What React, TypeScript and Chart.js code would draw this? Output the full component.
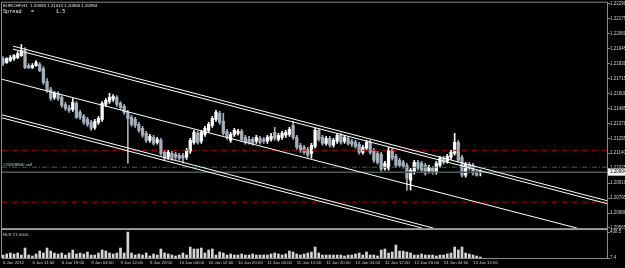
import React, { useEffect, useRef } from "react";
import { Chart, registerables } from "chart.js";

Chart.register(...registerables);

const symbol = "EURCHF,H1";
const spread = 1.5;
const orderLabel = "#25828840 sell";
const indicatorLabel = "HLR 27.0000";

const timeLabels = [
  "6 Jan 2012", "6 Jan 11:00", "6 Jan 19:00", "9 Jan 04:00", "9 Jan 12:00", "9 Jan 20:00",
  "10 Jan 04:00", "10 Jan 12:00", "10 Jan 20:00", "11 Jan 04:00", "11 Jan 12:00", "11 Jan 20:00",
  "12 Jan 04:00", "12 Jan 12:00", "12 Jan 20:00", "13 Jan 04:00", "13 Jan 12:00",
];
const timeLabelBars = [0, 8, 16, 24, 32, 40, 48, 56, 64, 72, 80, 88, 96, 104, 112, 120, 128];

const opens = [
  1.21868, 1.21837, 1.21853, 1.21868, 1.21876, 1.21891, 1.21930, 1.21814, 1.21799, 1.21814,
  1.21822, 1.21791, 1.21692, 1.21630, 1.21569, 1.21600, 1.21569, 1.21515, 1.21492, 1.21477,
  1.21523, 1.21454, 1.21423, 1.21400, 1.21377, 1.21339, 1.21377, 1.21400, 1.21515, 1.21538,
  1.21554, 1.21569, 1.21523, 1.21500, 1.21454, 1.21416, 1.21400, 1.21362, 1.21331, 1.21293,
  1.21239, 1.21262, 1.21224, 1.21239, 1.21147, 1.21109, 1.21139, 1.21132, 1.21124, 1.21124,
  1.21109, 1.21155, 1.21224, 1.21293, 1.21232, 1.21285, 1.21316, 1.21354, 1.21400, 1.21446,
  1.21385, 1.21308, 1.21239, 1.21285, 1.21293, 1.21308, 1.21262, 1.21247, 1.21247, 1.21232,
  1.21255, 1.21247, 1.21232, 1.21247, 1.21301, 1.21247, 1.21262, 1.21278, 1.21285, 1.21354,
  1.21262, 1.21201, 1.21186, 1.21170, 1.21139, 1.21193, 1.21316, 1.21262, 1.21216, 1.21255,
  1.21201, 1.21232, 1.21278, 1.21232, 1.21255, 1.21232, 1.21224, 1.21209, 1.21147, 1.21178,
  1.21224, 1.21163, 1.21139, 1.21132, 1.21024, 1.21024, 1.21163, 1.21116, 1.21086, 1.21070,
  1.21047, 1.20932, 1.20994, 1.21070, 1.21063, 1.21047, 1.21001, 1.21024, 1.20994, 1.21047,
  1.21101, 1.21078, 1.21109, 1.21139, 1.21224, 1.21109, 1.20971, 1.21055, 1.21047, 1.20994,
  1.20993,
];
const highs = [
  1.21884, 1.21876, 1.21891, 1.21899, 1.21922, 1.21976, 1.21953, 1.21830, 1.21830, 1.21853,
  1.21837, 1.21807, 1.21715, 1.21646, 1.21615, 1.21615, 1.21584, 1.21531, 1.21508, 1.21561,
  1.21538, 1.21469, 1.21439, 1.21416, 1.21393, 1.21400, 1.21423, 1.21538, 1.21561, 1.21600,
  1.21592, 1.21584, 1.21538, 1.21515, 1.21469, 1.21431, 1.21416, 1.21377, 1.21347, 1.21308,
  1.21285, 1.21278, 1.21262, 1.21255, 1.21163, 1.21163, 1.21155, 1.21147, 1.21139, 1.21139,
  1.21178, 1.21255, 1.21316, 1.21308, 1.21316, 1.21347, 1.21377, 1.21423, 1.21469, 1.21462,
  1.21446, 1.21324, 1.21301, 1.21331, 1.21324, 1.21324, 1.21278, 1.21270, 1.21262, 1.21278,
  1.21270, 1.21262, 1.21278, 1.21293, 1.21339, 1.21293, 1.21308, 1.21316, 1.21339, 1.21385,
  1.21278, 1.21216, 1.21201, 1.21186, 1.21216, 1.21331, 1.21331, 1.21278, 1.21270, 1.21270,
  1.21255, 1.21293, 1.21293, 1.21278, 1.21270, 1.21247, 1.21239, 1.21224, 1.21201, 1.21239,
  1.21239, 1.21178, 1.21155, 1.21147, 1.21078, 1.21186, 1.21178, 1.21132, 1.21101, 1.21086,
  1.21063, 1.21024, 1.21086, 1.21086, 1.21078, 1.21063, 1.21047, 1.21040, 1.21078, 1.21116,
  1.21116, 1.21132, 1.21163, 1.21293, 1.21239, 1.21124, 1.21070, 1.21070, 1.21063, 1.21009,
  1.21013,
];
const lows = [
  1.21814, 1.21830, 1.21845, 1.21853, 1.21868, 1.21884, 1.21791, 1.21791, 1.21791, 1.21807,
  1.21768, 1.21669, 1.21607, 1.21546, 1.21554, 1.21546, 1.21492, 1.21469, 1.21454, 1.21462,
  1.21408, 1.21400, 1.21362, 1.21347, 1.21316, 1.21324, 1.21362, 1.21385, 1.21500, 1.21523,
  1.21538, 1.21500, 1.21477, 1.21439, 1.21063, 1.21347, 1.21339, 1.21301, 1.21262, 1.21224,
  1.21224, 1.21201, 1.21209, 1.21124, 1.21086, 1.21093, 1.21086, 1.21093, 1.21086, 1.21063,
  1.21093, 1.21139, 1.21209, 1.21209, 1.21216, 1.21270, 1.21301, 1.21339, 1.21385, 1.21362,
  1.21278, 1.21247, 1.21224, 1.21270, 1.21278, 1.21232, 1.21209, 1.21209, 1.21201, 1.21216,
  1.21209, 1.21216, 1.21216, 1.21232, 1.21239, 1.21232, 1.21247, 1.21262, 1.21270, 1.21247,
  1.21170, 1.21147, 1.21132, 1.21109, 1.21101, 1.21178, 1.21232, 1.21201, 1.21201, 1.21186,
  1.21186, 1.21216, 1.21209, 1.21216, 1.21201, 1.21193, 1.21178, 1.21132, 1.21132, 1.21163,
  1.21132, 1.21070, 1.21055, 1.21001, 1.21009, 1.21009, 1.21086, 1.21032, 1.21032, 1.21024,
  1.20856, 1.20856, 1.20978, 1.21009, 1.20994, 1.20971, 1.20986, 1.20978, 1.20978, 1.21032,
  1.21055, 1.21063, 1.21093, 1.21124, 1.21070, 1.20955, 1.20955, 1.21009, 1.20971, 1.20963,
  1.20966,
];
const closes = [
  1.21830, 1.21868, 1.21876, 1.21891, 1.21906, 1.21930, 1.21799, 1.21799, 1.21814, 1.21837,
  1.21776, 1.21684, 1.21623, 1.21561, 1.21600, 1.21561, 1.21508, 1.21485, 1.21469, 1.21531,
  1.21416, 1.21416, 1.21377, 1.21362, 1.21331, 1.21385, 1.21408, 1.21523, 1.21546, 1.21569,
  1.21577, 1.21515, 1.21492, 1.21454, 1.21408, 1.21362, 1.21354, 1.21316, 1.21278, 1.21239,
  1.21270, 1.21216, 1.21247, 1.21139, 1.21101, 1.21147, 1.21101, 1.21109, 1.21101, 1.21101,
  1.21163, 1.21239, 1.21301, 1.21224, 1.21301, 1.21331, 1.21362, 1.21408, 1.21454, 1.21377,
  1.21293, 1.21262, 1.21285, 1.21316, 1.21308, 1.21247, 1.21224, 1.21224, 1.21216, 1.21262,
  1.21224, 1.21232, 1.21262, 1.21270, 1.21255, 1.21278, 1.21293, 1.21301, 1.21324, 1.21262,
  1.21186, 1.21163, 1.21147, 1.21124, 1.21201, 1.21316, 1.21247, 1.21216, 1.21255, 1.21201,
  1.21239, 1.21278, 1.21224, 1.21262, 1.21216, 1.21209, 1.21193, 1.21147, 1.21186, 1.21224,
  1.21147, 1.21086, 1.21070, 1.21017, 1.21063, 1.21163, 1.21101, 1.21047, 1.21047, 1.21040,
  1.20948, 1.21009, 1.21070, 1.21024, 1.21009, 1.20986, 1.21032, 1.20994, 1.21063, 1.21101,
  1.21070, 1.21116, 1.21147, 1.21224, 1.21086, 1.20971, 1.21055, 1.21024, 1.20986, 1.20971,
  1.20994,
];
const volumes = [
  57, 74, 90, 74, 90, 57, 173, 57, 41, 74,
  123, 90, 173, 123, 90, 74, 90, 57, 90, 140,
  74, 90, 74, 107, 57, 57, 90, 140, 123, 90,
  74, 90, 173, 90, 438, 90, 57, 74, 57, 90,
  41, 74, 57, 157, 90, 74, 57, 41, 57, 90,
  57, 190, 157, 157, 173, 90, 140, 157, 57, 107,
  90, 57, 74, 57, 57, 74, 57, 57, 74, 57,
  57, 57, 57, 74, 90, 74, 57, 74, 123, 107,
  74, 57, 74, 90, 107, 190, 90, 57, 57, 57,
  57, 57, 57, 41, 57, 57, 74, 90, 57, 107,
  57, 57, 41, 140, 157, 90, 107, 223, 123, 123,
  107, 90, 57, 57, 74, 57, 57, 57, 41, 57,
  57, 74, 90, 190, 140, 190, 90, 74, 57, 41,
  24,
];

const priceTicks = [
  1.2229, 1.22175, 1.2206, 1.21945, 1.2183, 1.21715, 1.216, 1.21485,
  1.2137, 1.21255, 1.2114, 1.21025, 1.2091, 1.20795, 1.2068, 1.20565,
];
const volumeTicks = [7.4, 438.5];

// trend channel lines (bar index, price)
const upperChannelA = [{ x: 2.72, y: 1.21964 }, { x: 164.49, y: 1.20775 }];
const upperChannelB = [{ x: 2.72, y: 1.21941 }, { x: 164.49, y: 1.20752 }];
const middleChannel = [{ x: -0.27, y: 1.21709 }, { x: 156.3, y: 1.20564 }];
const lowerChannelA = [{ x: -0.27, y: 1.21435 }, { x: 117.2, y: 1.20564 }];
const lowerChannelB = [{ x: -0.27, y: 1.21412 }, { x: 114.1, y: 1.20564 }];

const sellPrice = 1.21032;
const stopLevelHigh = 1.21163;
const stopLevelLow = 1.20764;

const X_MIN = -0.2723;
const X_MAX = 164.49;
const Y_MIN = 1.20564;
const Y_MAX = 1.22298;
const V_MIN = 7.4;
const V_MAX = 504.8;

const BULL = "#ffffff";
const BEAR = "#a5b0bd";
const AXIS = "#8a8a8a";
const TEXT = "#d0d0d0";
const FONT = '"Liberation Sans", Arial, sans-serif';

export default function App() {
  const ref = useRef<HTMLCanvasElement | null>(null);

  useEffect(() => {
    document.body.style.margin = "0";
    document.body.style.background = "#000";
    const canvas = ref.current;
    if (!canvas) return;

    const n = opens.length;
    const last = n - 1;
    const bidPrice = closes[last];
    const colors = opens.map((o, i) => (closes[i] >= o ? BULL : BEAR));

    const level = (price: number, color: string, dash: number[], width = 1) => ({
      type: "line" as const,
      data: [{ x: X_MIN, y: price }, { x: X_MAX, y: price }],
      borderColor: color,
      borderWidth: width,
      borderDash: dash,
      pointRadius: 0,
      tension: 0,
      fill: false,
      yAxisID: "y",
      order: 1,
    });
    const trend = (pts: { x: number; y: number }[]) => ({
      type: "line" as const,
      data: pts,
      borderColor: "#ffffff",
      borderWidth: 1,
      pointRadius: 0,
      tension: 0,
      fill: false,
      yAxisID: "y",
      order: 0,
    });

    const header = `${symbol}  ${opens[last].toFixed(5)} ${highs[last].toFixed(5)} ${lows[last].toFixed(5)} ${closes[last].toFixed(5)}`;

    const overlay = {
      id: "overlay",
      beforeDatasetsDraw(chart: any) {
        const { ctx, chartArea } = chart;
        ctx.save();
        ctx.strokeStyle = AXIS;
        ctx.lineWidth = 1;
        ctx.beginPath();
        ctx.moveTo(chartArea.left - 0.5, chartArea.bottom);
        ctx.lineTo(chartArea.left - 0.5, chartArea.top - 0.5);
        ctx.lineTo(chartArea.right, chartArea.top - 0.5);
        ctx.stroke();
        ctx.restore();
      },
      afterDatasetsDraw(chart: any) {
        const { ctx, chartArea, scales } = chart;
        ctx.save();
        ctx.fillStyle = "#9a9a9a";
        ctx.fillRect(chartArea.left, scales.y.bottom, chartArea.right - chartArea.left, 2);
        ctx.restore();
      },
      afterDraw(chart: any) {
        const { ctx, chartArea, scales } = chart;
        ctx.save();
        ctx.fillStyle = "#ececec";
        ctx.textBaseline = "alphabetic";
        ctx.textAlign = "left";
        ctx.font = `4.4px ${FONT}`;
        ctx.fillText(header, 3, 7);
        ctx.font = '5.2px "Liberation Mono", monospace';
        ctx.fillText(`Spread   =       ${spread}`, 3, 12.5);

        ctx.fillStyle = TEXT;
        ctx.font = `4.3px ${FONT}`;
        const sy = scales.y.getPixelForValue(sellPrice);
        ctx.fillText(orderLabel, 3, sy - 1.5);
        ctx.fillText(indicatorLabel, 3, scales.yv.top + 8);

        const by = scales.y.getPixelForValue(bidPrice);
        ctx.fillStyle = "#f4f4f4";
        ctx.fillRect(chartArea.right + 1, by - 3.5, 20, 7);
        ctx.fillStyle = "#000";
        ctx.textBaseline = "middle";
        ctx.font = `4.5px ${FONT}`;
        ctx.fillText(bidPrice.toFixed(5), chartArea.right + 3, by);
        ctx.restore();
      },
    };

    const chart = new Chart(canvas, {
      type: "bar",
      data: {
        datasets: [
          {
            type: "bar",
            label: "wick",
            data: opens.map((_, i) => ({ x: i, y: [lows[i], highs[i]] })) as any,
            backgroundColor: colors,
            barThickness: 1,
            grouped: false,
            yAxisID: "y",
            order: 4,
          },
          {
            type: "bar",
            label: "body",
            data: opens.map((o, i) => ({ x: i, y: [o, closes[i]] })) as any,
            backgroundColor: colors,
            barThickness: 2.6,
            minBarLength: 1,
            grouped: false,
            yAxisID: "y",
            order: 3,
          },
          {
            type: "bar",
            label: "volume",
            data: volumes.map((v, i) => ({ x: i, y: v })),
            backgroundColor: "#d4d4d4",
            barThickness: 2,
            grouped: false,
            yAxisID: "yv",
            order: 3,
          },
          level(bidPrice, "#4f5760", [], 1.6),
          level(stopLevelHigh, "#c00000", [5, 2, 1, 2]),
          level(sellPrice, "#009000", [5, 2, 1, 2]),
          level(stopLevelLow, "#c00000", [5, 2, 1, 2]),
          trend(upperChannelA),
          trend(upperChannelB),
          trend(middleChannel),
          trend(lowerChannelA),
          trend(lowerChannelB),
        ] as any,
      },
      options: {
        animation: false,
        responsive: false,
        maintainAspectRatio: false,
        devicePixelRatio: 1,
        events: [],
        layout: { padding: { left: 2, top: 2, right: 0, bottom: 0 } },
        plugins: { legend: { display: false }, tooltip: { enabled: false }, title: { display: false } },
        scales: {
          x: {
            type: "linear",
            min: X_MIN,
            max: X_MAX,
            offset: false,
            grid: { display: false, drawTicks: false },
            border: { display: true, color: AXIS, width: 1 },
            afterBuildTicks: (s: any) => {
              s.ticks = timeLabelBars.map((v) => ({ value: v }));
            },
            afterFit: (s: any) => {
              s.height = 10;
            },
            ticks: {
              autoSkip: false,
              maxRotation: 0,
              minRotation: 0,
              align: "start",
              padding: 2,
              color: TEXT,
              font: { size: 4.3, family: FONT },
              callback: (v: any) => {
                const k = timeLabelBars.indexOf(Number(v));
                return k >= 0 ? timeLabels[k] : "";
              },
            },
          },
          y: {
            type: "linear",
            position: "right",
            stack: "panes",
            stackWeight: 226,
            min: Y_MIN,
            max: Y_MAX,
            grid: { display: true, drawOnChartArea: false, drawTicks: true, tickLength: 3, color: AXIS },
            border: { display: true, color: AXIS, width: 1 },
            afterBuildTicks: (s: any) => {
              s.ticks = priceTicks.map((v) => ({ value: v }));
            },
            afterFit: (s: any) => {
              s.width = 18;
            },
            ticks: {
              autoSkip: false,
              padding: 0,
              color: TEXT,
              font: { size: 4.5, family: FONT },
              callback: (v: any) => Number(v).toFixed(5),
            },
          },
          yv: {
            type: "linear",
            position: "right",
            stack: "panes",
            stackWeight: 30,
            min: V_MIN,
            max: V_MAX,
            grid: { display: true, drawOnChartArea: false, drawTicks: true, tickLength: 3, color: AXIS },
            border: { display: true, color: AXIS, width: 1 },
            afterBuildTicks: (s: any) => {
              s.ticks = volumeTicks.map((v) => ({ value: v }));
            },
            afterFit: (s: any) => {
              s.width = 18;
            },
            ticks: {
              autoSkip: false,
              padding: 0,
              color: TEXT,
              font: { size: 4.5, family: FONT },
              callback: (v: any) => String(v),
            },
          },
        },
      } as any,
      plugins: [overlay],
    });

    return () => chart.destroy();
  }, []);

  return (
    <div style={{ position: "fixed", left: 0, top: 0, width: 625, height: 268, background: "#000" }}>
      <canvas ref={ref} width={625} height={268} style={{ display: "block", width: 625, height: 268 }} />
    </div>
  );
}
